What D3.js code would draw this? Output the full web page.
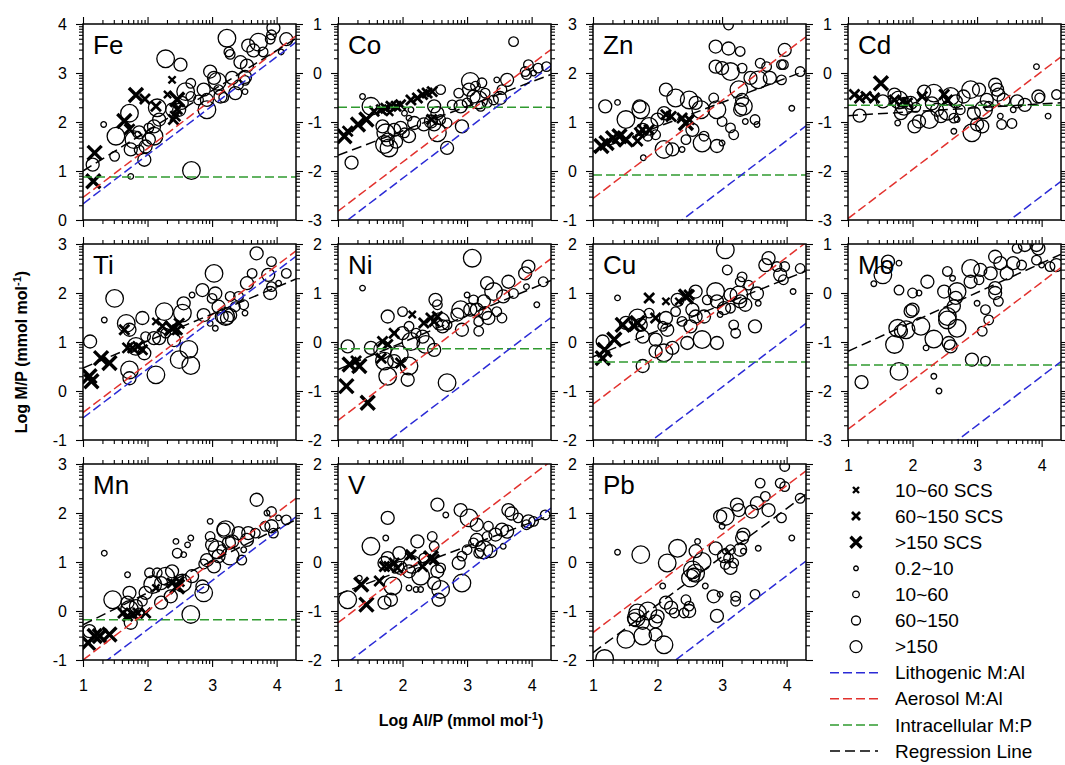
<!DOCTYPE html>
<html>
<head>
<meta charset="utf-8">
<script src="https://cdn.jsdelivr.net/npm/d3@7"></script>
<style>
  body { margin: 0; background: #fff; }
  text { font-family: "Liberation Sans", Arial, sans-serif; fill: #000; }
</style>
</head>
<body>
<div id="vis"></div>
<script>
const WIDTH = 1065, HEIGHT = 765;
const PW = 213, PH = 196;
const COL_X = [83, 338, 593, 848];
const ROW_Y = [24, 244, 464];

// panel order: row by row
const elements = ["Fe", "Co", "Zn", "Cd", "Ti", "Ni", "Cu", "Mo", "Mn", "V", "Pb"];
const yMin = [0, -3, -1, -3, -1, -2, -2, -3, -1, -2, -2];   // y domain is [yMin, yMin + 4]
const xTicks = [1, 2, 3, 4];

// reference lines, y = x + b for the M:Al lines
const lithoB = [-0.67, -4.15, -3.38, -6.51, -1.55, -3.80, -3.92, -5.70, -2.38, -3.20, -4.28];
const aeroB  = [-0.54, -3.82, -1.56, -3.97, -1.44, -2.60, -2.27, -3.78, -2.00, -2.24, -2.44];
const cellMP = [0.88, -0.70, -0.08, -0.66, null, -0.14, -0.41, -1.47, -0.18, null, null];
const regSlope = [0.82, 0.50, 0.50, 0.08, 0.55, 0.55, 0.53, 0.60, 0.65, 0.49, 0.98];
const regB     = [0.18, -2.18, -0.10, -0.95, -0.08, -1.11, -0.83, -1.79, -0.93, -1.15, -2.83];

// point classes: 1..3 crosses (SCS), 4..7 circles
const classNames = ["", "10~60 SCS", "60~150 SCS", ">150 SCS", "0.2~10", "10~60", "60~150", ">150"];

// [log Al/P, log M/P, class]
const Fe = [[1.16,0.79,3],[1.18,1.37,3],[1.64,2.02,3],[1.72,1.85,2],[1.82,2.55,3],[1.96,2.47,2],[2.13,2.32,2],[2.31,2.56,1],[2.38,2.86,1],[2.46,2.46,3],[2.43,2.12,2],[2.46,2.26,2],[2.40,2.05,2],
  [1.32,1.95,4],[1.15,1.13,6],[1.51,1.71,7],[1.72,2.18,7],[1.79,1.64,7],[1.74,1.44,6],[1.95,1.23,6],[2.02,1.64,6],[2.10,1.71,7],[2.15,2.29,7],[2.18,2.05,6],[2.28,3.29,7],[2.51,3.17,6],[2.59,2.62,7],[2.67,2.79,5],[2.68,1.01,7],[1.74,0.89,4],[2.49,2.25,6],[2.79,2.45,5],[2.87,2.66,6],[2.92,2.25,7],[2.97,3.03,6],[3.03,2.90,6],[3.08,2.83,7],[3.13,2.52,6],[3.23,3.71,7],[3.26,3.43,5],[3.28,3.38,5],[3.31,2.90,6],[3.36,2.59,6],[3.44,3.22,6],[3.51,2.92,6],[3.51,2.85,5],[3.54,3.15,6],[3.56,3.56,6],[3.64,3.46,6],[3.72,3.63,7],[3.79,3.43,5],[3.90,3.69,5],[3.95,3.92,6],[3.92,3.78,5],[4.07,3.43,4],[4.15,3.69,6],[2.10,1.91,6],[2.02,1.88,5],[1.85,1.75,4],[1.49,1.30,5],[2.38,2.25,6],[2.53,2.39,6],[2.67,2.52,5],[2.92,2.45,6],[3.10,2.66,5],[3.18,2.50,5],[3.41,2.76,5],[3.51,2.62,4],[1.97,1.50,6],[1.87,1.43,5],[1.87,1.79,6]];
const Co = [[1.10,-1.29,3],[1.15,-1.19,2],[1.31,-1.05,3],[1.44,-0.95,3],[1.56,-0.78,2],[1.67,-0.75,2],[1.74,-0.72,2],[1.82,-0.68,2],[1.90,-0.68,2],[1.97,-0.65,2],[2.13,-0.55,2],[2.23,-0.51,2],[2.31,-0.44,2],[2.38,-0.41,2],[2.46,-0.38,2],[1.80,-0.80,1],[2.45,-0.95,2],
  [1.38,-0.48,4],[1.21,-1.83,6],[1.51,-0.68,7],[1.69,-1.09,6],[1.74,-1.22,7],[1.77,-1.36,6],[1.72,-1.46,7],[1.79,-1.53,7],[1.87,-1.16,6],[1.97,-1.12,6],[2.03,-1.22,5],[2.10,-1.29,6],[2.10,-0.92,4],[2.18,-1.02,6],[2.33,-1.05,6],[2.44,-0.99,6],[2.49,-1.05,6],[2.54,-0.82,6],[2.59,-0.34,5],[2.49,-0.68,6],[2.59,-0.95,5],[2.69,-1.02,5],[2.54,-1.22,7],[2.69,-1.53,6],[2.90,-0.68,6],[2.92,-1.09,6],[2.87,-0.41,5],[3.05,-0.17,7],[3.03,-0.34,6],[3.10,-0.48,6],[3.18,-0.55,7],[3.13,-0.27,5],[3.23,-0.20,5],[3.28,-0.41,5],[3.31,-0.61,5],[3.21,-0.68,5],[3.41,-0.55,5],[3.51,-0.51,6],[3.46,-0.14,4],[3.54,-0.34,5],[3.62,-0.14,6],[3.72,0.64,5],[3.90,0.03,5],[3.95,0.17,5],[4.03,0.00,4],[4.10,0.10,5],[4.23,0.13,5],[3.92,-0.03,5],[2.13,-0.75,4],[2.03,-0.82,4],[2.77,-0.65,5],[3.00,-0.61,5],[1.90,-1.40,6]];
const Zn = [[1.13,0.51,3],[1.21,0.57,3],[1.31,0.67,3],[1.41,0.71,3],[1.51,0.64,3],[1.69,0.61,2],[1.72,0.78,2],[1.77,0.84,2],[1.87,0.84,2],[2.13,1.15,2],[2.21,1.11,2],[2.38,1.08,2],[2.49,1.05,2],[2.44,0.98,3],
  [1.19,1.32,6],[1.38,1.40,4],[1.51,1.05,7],[1.72,1.32,6],[1.74,1.25,7],[1.77,0.84,6],[1.78,0.27,4],[1.85,0.71,5],[1.97,0.74,5],[1.87,0.91,7],[2.00,1.05,6],[2.10,0.44,7],[2.23,0.44,6],[2.28,1.49,7],[2.13,1.66,6],[2.10,1.18,6],[2.38,0.44,4],[2.44,0.64,5],[2.49,1.45,7],[2.59,1.39,6],[2.67,1.25,7],[2.54,0.84,6],[2.69,0.57,7],[2.72,0.71,5],[2.92,1.25,7],[2.87,1.49,5],[2.90,2.54,6],[2.90,2.13,6],[2.92,0.51,6],[3.00,0.57,4],[3.00,1.01,5],[3.00,2.10,6],[3.10,2.50,6],[3.13,2.03,7],[3.10,2.98,5],[3.13,0.88,5],[3.18,0.74,5],[3.26,1.66,7],[3.28,1.25,6],[3.31,1.45,6],[3.33,1.32,7],[3.28,2.44,5],[3.31,2.10,5],[3.36,1.01,4],[3.44,1.90,6],[3.51,1.05,5],[3.54,0.95,4],[3.56,1.86,7],[3.59,2.20,5],[3.69,2.13,5],[3.74,1.90,6],[3.92,2.17,5],[3.95,2.17,5],[3.92,1.86,5],[3.97,2.47,6],[4.08,1.28,4],[4.21,2.03,5]];
const Cd = [[1.10,-0.44,2],[1.18,-0.51,2],[1.28,-0.48,2],[1.41,-0.51,2],[1.51,-0.21,3],[1.72,-0.55,2],[1.85,-0.58,2],[1.92,-0.61,2],[2.15,-0.48,2],[2.49,-0.44,2],[2.54,-0.55,2],
  [1.18,-0.87,6],[1.54,-0.58,6],[1.72,-0.44,6],[1.79,-0.55,7],[1.77,-1.02,4],[1.82,-0.82,6],[1.87,-0.68,7],[1.97,-0.61,6],[2.03,-1.09,6],[2.10,-0.99,6],[2.18,-0.38,6],[2.26,-0.95,7],[2.33,-0.41,7],[2.38,-0.75,6],[2.44,-0.88,6],[2.54,-0.78,7],[2.59,-0.48,7],[2.67,-0.58,6],[2.69,-0.95,4],[2.74,-0.75,5],[2.64,-0.92,5],[2.79,-0.48,6],[2.90,-0.34,7],[2.95,-0.82,6],[2.92,-1.22,7],[3.00,-1.05,6],[3.03,-0.34,6],[3.08,-1.09,6],[3.10,-0.75,7],[3.15,-0.55,6],[3.18,-0.68,5],[3.28,-0.24,6],[3.31,-0.34,6],[3.33,-0.44,6],[3.36,-0.88,4],[3.38,-1.05,5],[3.41,-0.55,6],[3.54,-1.03,5],[3.56,-0.75,4],[3.62,-0.58,6],[3.74,-0.65,6],[3.92,0.13,4],[3.95,-0.48,6],[3.97,-0.51,5],[4.10,-0.88,4],[4.23,-0.44,5],[2.64,-1.19,4],[2.05,-0.70,5],[2.30,-0.62,6]];
const Ti = [[1.13,0.20,3],[1.10,0.30,3],[1.28,0.67,3],[1.41,0.57,3],[1.64,1.25,2],[1.69,0.88,2],[1.77,0.88,2],[1.85,0.91,2],[1.92,0.84,2],[2.13,1.42,1],[2.23,1.32,2],[2.38,1.28,3],[2.46,1.25,2],[2.49,1.38,2],
  [1.11,1.01,6],[1.33,1.45,4],[1.49,1.89,7],[1.67,1.38,7],[1.72,1.25,6],[1.72,0.43,7],[1.82,0.91,7],[1.72,0.26,6],[1.92,1.49,6],[1.97,1.11,5],[1.95,0.77,6],[2.10,1.08,6],[2.13,0.33,7],[2.18,1.08,6],[2.26,1.62,7],[2.28,1.18,5],[2.41,1.04,6],[2.49,0.64,7],[2.54,1.59,7],[2.56,1.79,6],[2.64,0.85,7],[2.67,0.52,7],[2.69,1.96,4],[2.85,2.06,6],[2.87,1.55,6],[2.97,1.38,4],[3.05,1.28,4],[3.00,1.89,5],[3.03,2.40,7],[3.05,1.99,6],[3.10,1.72,6],[3.15,1.52,6],[3.21,1.52,7],[3.23,1.49,6],[3.28,1.93,5],[3.28,1.55,6],[3.36,1.72,5],[3.41,1.93,5],[3.49,1.76,5],[3.51,1.59,4],[3.54,2.20,6],[3.62,2.40,5],[3.69,2.81,6],[3.87,2.37,6],[3.92,2.64,5],[3.90,2.00,6],[4.03,2.20,4],[4.15,2.40,5],[3.92,2.13,5]];
const Ni = [[1.13,-0.90,3],[1.18,-0.46,3],[1.33,-0.49,3],[1.28,-0.39,2],[1.46,-1.24,3],[1.69,0.01,2],[1.77,-0.05,2],[1.87,0.18,2],[1.67,-0.33,2],[1.97,-0.43,2],[2.15,0.56,1],[2.33,0.39,2],[2.44,0.49,2],[2.49,0.42,2],[2.54,0.52,2],
  [1.15,-0.09,6],[1.38,1.10,4],[1.51,-0.12,6],[1.69,-0.16,7],[1.77,0.52,6],[1.72,-0.39,7],[1.77,-0.70,7],[1.87,-0.39,6],[1.95,-0.26,7],[2.00,0.62,5],[2.00,0.18,6],[2.08,-0.77,6],[2.10,0.32,5],[2.13,0.01,7],[2.10,-0.49,7],[2.21,0.18,5],[2.31,0.11,6],[2.36,-0.05,7],[2.49,-0.16,6],[2.51,0.86,6],[2.54,0.76,5],[2.59,0.42,7],[2.62,0.32,6],[2.69,0.35,5],[2.69,-0.83,7],[2.85,0.56,6],[2.90,0.66,7],[2.92,0.25,6],[3.00,0.96,4],[3.05,0.66,6],[3.08,1.71,7],[3.10,0.86,5],[3.18,0.42,5],[3.15,0.66,6],[3.18,0.22,5],[3.26,0.83,6],[3.28,0.59,6],[3.31,1.20,6],[3.33,0.49,6],[3.41,1.03,7],[3.46,0.62,5],[3.54,0.49,5],[3.56,0.93,6],[3.64,1.23,6],[3.72,0.99,5],[3.90,1.40,6],[3.95,1.54,6],[3.92,1.13,4],[4.08,0.76,4],[4.18,1.23,5]];
const Cu = [[1.15,-0.33,3],[1.18,-0.16,3],[1.33,0.05,3],[1.46,0.35,3],[1.64,0.32,2],[1.69,0.39,3],[1.87,0.90,2],[1.97,0.49,2],[2.13,0.83,1],[2.33,0.83,1],[2.44,0.93,3],[2.49,0.96,2],
  [1.15,0.01,6],[1.38,0.90,4],[1.51,0.39,6],[1.69,0.49,7],[1.74,0.35,6],[1.77,-0.49,6],[1.77,0.11,6],[1.87,0.59,5],[1.97,0.05,6],[1.97,-0.19,6],[2.08,0.32,5],[2.10,-0.22,7],[2.13,0.49,6],[2.15,0.25,6],[2.23,-0.12,6],[2.28,0.62,5],[2.31,0.86,6],[2.38,0.42,5],[2.46,-0.02,6],[2.51,0.32,6],[2.54,0.66,6],[2.59,1.03,6],[2.59,0.52,6],[2.69,0.05,7],[2.72,0.52,6],[2.77,0.86,5],[2.92,-0.02,6],[2.90,1.03,7],[2.92,0.83,6],[2.97,0.56,4],[3.03,0.69,6],[3.05,1.88,7],[3.08,1.47,5],[3.13,0.96,6],[3.13,0.69,5],[3.18,0.35,5],[3.21,0.18,5],[3.26,0.96,7],[3.28,1.23,5],[3.31,1.33,5],[3.28,0.83,6],[3.36,0.76,6],[3.41,1.16,5],[3.51,0.32,6],[3.54,0.99,6],[3.56,0.79,4],[3.67,1.57,6],[3.72,1.71,6],[3.85,1.54,5],[3.90,1.37,6],[3.95,1.27,5],[3.97,1.54,5],[4.10,1.03,4],[4.21,1.50,5]];
const Mo = [[1.21,-1.82,6],[1.40,0.19,4],[1.54,0.37,7],[1.62,0.64,6],[1.79,0.61,4],[1.79,0.06,5],[1.79,-1.60,7],[1.72,-1.05,7],[1.77,-0.72,7],[1.82,-0.78,6],[1.90,-0.75,7],[2.00,0.00,5],[2.10,0.00,4],[2.00,-0.34,6],[1.97,-0.37,6],[2.13,-0.68,7],[2.21,-1.12,4],[2.23,0.23,6],[2.33,-0.94,7],[2.33,-1.70,4],[2.41,-2.00,4],[2.49,0.03,6],[2.54,0.44,5],[2.54,-0.48,7],[2.54,-0.55,7],[2.56,-1.02,6],[2.59,-1.09,6],[2.62,0.30,4],[2.64,-0.27,6],[2.67,-0.10,6],[2.69,0.03,7],[2.69,-0.72,7],[2.90,0.50,7],[2.90,0.23,6],[2.92,-1.36,6],[3.00,-0.21,4],[3.03,0.27,5],[3.05,0.47,6],[3.13,-1.39,5],[3.13,-0.34,5],[3.18,-0.55,5],[3.08,-0.78,5],[3.21,0.40,6],[3.28,0.74,6],[3.28,0.10,6],[3.28,0.00,6],[3.33,-0.17,5],[3.36,0.61,6],[3.46,0.40,6],[3.56,0.61,6],[3.62,0.91,5],[3.69,0.57,5],[3.74,0.98,6],[3.92,0.98,6],[3.95,0.91,6],[3.92,0.67,5],[4.00,0.57,4],[4.13,0.54,5],[4.23,0.57,6]];
const Mn = [[1.08,-0.65,3],[1.18,-0.51,3],[1.26,-0.51,3],[1.41,-0.48,3],[1.62,-0.04,2],[1.69,-0.10,2],[1.77,-0.07,2],[1.85,-0.04,2],[1.97,-0.04,2],[2.13,0.47,1],[2.38,0.57,2],[2.46,0.50,3],[2.49,0.60,2],
  [1.10,-0.41,6],[1.33,1.18,4],[1.46,0.23,7],[1.69,0.74,4],[1.72,0.37,6],[1.69,0.17,6],[1.72,0.03,7],[1.74,-0.24,6],[1.82,0.10,6],[1.87,-0.04,5],[1.92,0.20,5],[1.97,0.37,6],[2.03,0.78,5],[2.08,0.54,7],[2.15,0.78,5],[2.21,0.57,6],[2.21,0.17,6],[2.28,0.71,7],[2.36,0.30,6],[2.38,0.81,6],[2.44,1.42,4],[2.46,1.18,5],[2.54,0.57,7],[2.56,1.15,4],[2.62,1.35,4],[2.67,1.49,4],[2.67,-0.07,7],[2.69,0.71,6],[2.85,0.50,6],[2.87,0.37,7],[2.87,0.96,5],[2.92,1.04,6],[2.97,1.83,4],[2.97,1.52,5],[3.00,1.35,6],[3.03,0.91,6],[3.08,1.25,7],[3.10,1.12,6],[3.15,1.25,5],[3.18,1.66,6],[3.21,1.66,7],[3.26,1.39,6],[3.28,1.12,7],[3.31,1.42,6],[3.41,1.59,6],[3.46,1.04,5],[3.49,1.25,4],[3.56,1.59,6],[3.54,1.45,6],[3.67,1.59,5],[3.69,2.27,6],[3.82,1.73,5],[3.85,2.00,4],[3.92,2.03,5],[3.92,1.73,6],[3.95,1.59,5],[4.03,1.90,4],[4.15,1.86,5]];
const V = [[1.36,-0.46,3],[1.44,-0.87,3],[1.64,-0.39,2],[1.72,-0.09,2],[1.79,-0.09,2],[1.87,-0.02,2],[1.92,-0.12,2],[2.10,0.12,1],[2.13,0.15,2],[2.31,-0.09,2],[2.44,0.08,3],[2.49,0.05,2],
  [1.15,-0.77,7],[1.33,-0.33,4],[1.51,0.32,7],[1.72,-0.83,6],[1.72,-0.02,6],[1.74,0.49,4],[1.77,0.90,6],[1.77,0.08,6],[1.85,-0.49,7],[1.82,-0.77,6],[1.95,0.18,6],[1.97,-0.12,6],[2.10,-0.19,6],[2.10,-0.53,4],[2.15,-0.05,7],[2.21,-0.56,4],[2.23,0.42,6],[2.28,-0.29,7],[2.28,-0.56,4],[2.33,0.08,5],[2.46,0.52,5],[2.49,0.32,5],[2.49,-0.43,6],[2.54,1.17,6],[2.54,-0.19,6],[2.59,-0.56,7],[2.56,-0.77,6],[2.59,-0.12,5],[2.67,0.96,4],[2.87,-0.02,6],[2.90,1.06,6],[2.92,-0.43,7],[2.92,0.12,5],[3.00,0.25,5],[3.03,0.90,7],[3.10,0.39,5],[3.15,0.76,6],[3.15,0.45,6],[3.18,0.18,5],[3.21,0.32,5],[3.26,0.25,7],[3.31,0.52,5],[3.36,0.22,6],[3.33,0.73,5],[3.44,0.56,6],[3.54,0.66,6],[3.56,0.32,4],[3.62,0.62,6],[3.64,1.06,6],[3.69,0.99,6],[3.79,0.90,5],[3.92,0.76,5],[3.95,0.83,6],[4.03,0.83,5],[4.21,0.96,5]];
const Pb = [[1.18,-1.97,7],[1.38,0.20,4],[1.51,-1.58,7],[1.64,-1.17,6],[1.67,-1.14,7],[1.69,-1.04,7],[1.74,0.15,7],[1.77,-1.51,7],[1.77,-1.24,6],[1.85,-1.00,7],[1.97,-1.48,6],[1.97,-1.21,6],[2.00,-1.11,6],[2.08,-0.49,4],[2.10,-1.69,7],[2.13,-0.83,6],[2.15,-0.02,7],[2.21,-0.93,6],[2.26,-1.04,5],[2.31,0.28,7],[2.41,-1.04,5],[2.44,-0.77,5],[2.49,-1.00,6],[2.49,-0.90,5],[2.51,-0.33,7],[2.54,-0.16,7],[2.56,-0.26,6],[2.59,0.22,6],[2.59,-0.23,7],[2.62,0.42,4],[2.69,0.01,7],[2.74,-0.49,4],[2.87,-0.70,6],[2.90,0.28,6],[2.92,-1.10,6],[2.97,-0.66,4],[2.97,0.93,6],[3.00,0.73,4],[3.05,0.93,7],[3.03,0.12,6],[3.05,-0.05,5],[3.05,0.22,4],[3.10,0.08,5],[3.13,-0.12,6],[3.13,0.25,5],[3.18,-0.02,5],[3.21,-0.70,5],[3.21,-0.80,5],[3.23,1.17,6],[3.26,1.06,6],[3.28,0.25,6],[3.31,0.49,6],[3.33,0.56,6],[3.33,0.22,4],[3.46,1.03,6],[3.51,-0.66,5],[3.54,1.20,6],[3.56,0.28,4],[3.59,1.61,5],[3.67,1.34,5],[3.72,1.06,6],[3.90,1.61,5],[3.92,0.90,5],[3.97,1.54,5],[3.97,1.95,5],[4.08,0.49,4],[4.21,1.30,5]];
const points = [Fe, Co, Zn, Cd, Ti, Ni, Cu, Mo, Mn, V, Pb];

// marker sizes: cross half-width / stroke, circle radius
const crossHalf = [0, 3.6, 5, 7];
const crossStroke = [0, 2.4, 2.8, 3.4];
const circleR = [0, 0, 0, 0, 2.8, 4.8, 6.5, 8.8];
const legCrossHalf = [0, 3, 4, 5.5];
const legCircleR = [0, 0, 0, 0, 2.3, 3.3, 4.5, 6];

const BLUE = "#2b2bd6", RED = "#e2312d", GREEN = "#2f9a2f";
const tickText = d => String(d);   // plain hyphen for negatives, no decimals

const svg = d3.select("#vis").append("svg")
  .attr("width", WIDTH).attr("height", HEIGHT);

function minorTicks(lo, hi) {
  const out = [];
  for (let k = lo; k < hi; k++)
    for (let m = 2; m <= 9; m++) out.push(k + Math.log10(m));
  return out;
}

function drawMarker(g, d, half, stroke, r) {
  if (d[2] <= 3) {
    const h = half[d[2]];
    g.append("path")
      .attr("d", `M${-h},${-h}L${h},${h}M${-h},${h}L${h},${-h}`)
      .attr("stroke", "#000").attr("stroke-width", stroke[d[2]])
      .attr("fill", "none");
  } else {
    g.append("circle").attr("r", r[d[2]])
      .attr("fill", "none").attr("stroke", "#000").attr("stroke-width", 1.3);
  }
}

elements.forEach((el, i) => {
  const col = i % 4, row = Math.floor(i / 4);
  const g = svg.append("g")
    .attr("transform", `translate(${COL_X[col]},${ROW_Y[row]})`);

  const x = d3.scaleLinear().domain([1, 4.3]).range([0, PW]);
  const y = d3.scaleLinear().domain([yMin[i], yMin[i] + 4]).range([PH, 0]);
  const yMajor = d3.range(yMin[i], yMin[i] + 5);
  const yMinor = minorTicks(yMin[i], yMin[i] + 4);
  const xMinor = minorTicks(1, 4);
  const xLabels = (row === 2 || i === 7);

  g.append("clipPath").attr("id", "clip" + i)
    .append("rect").attr("width", PW).attr("height", PH);

  // ticks on all four sides, pointing out
  const axes = [
    [d3.axisLeft(y).tickValues(yMajor).tickSize(7).tickPadding(9).tickFormat(tickText), null],
    [d3.axisLeft(y).tickValues(yMinor).tickSize(4).tickFormat(""), null],
    [d3.axisRight(y).tickValues(yMajor).tickSize(7).tickFormat(""), `translate(${PW},0)`],
    [d3.axisRight(y).tickValues(yMinor).tickSize(4).tickFormat(""), `translate(${PW},0)`],
    [d3.axisTop(x).tickValues(xTicks).tickSize(7).tickFormat(""), null],
    [d3.axisTop(x).tickValues(xMinor).tickSize(4).tickFormat(""), null],
    [d3.axisBottom(x).tickValues(xTicks).tickSize(7).tickPadding(13).tickFormat(xLabels ? tickText : ""), `translate(0,${PH})`],
    [d3.axisBottom(x).tickValues(xMinor).tickSize(4).tickFormat(""), `translate(0,${PH})`]
  ];
  axes.forEach(([ax, tr]) => {
    const a = g.append("g").call(ax.tickSizeOuter(0));
    if (tr) a.attr("transform", tr);
    a.select(".domain").remove();
    a.selectAll("line").attr("stroke", "#000").attr("stroke-width", 1.1);
    a.selectAll("text").attr("font-size", 16).attr("fill", "#000")
      .attr("font-family", '"Liberation Sans", Arial, sans-serif');
  });

  // points
  const pg = g.append("g").attr("clip-path", `url(#clip${i})`);
  pg.selectAll("g.pt").data(points[i]).enter().append("g")
    .attr("class", "pt")
    .attr("transform", d => `translate(${x(d[0])},${y(d[1])})`)
    .each(function (d) { drawMarker(d3.select(this), d, crossHalf, crossStroke, circleR); });

  // reference lines
  const lg = g.append("g").attr("clip-path", `url(#clip${i})`);
  const seg = (f, color, dash) => lg.append("line")
    .attr("x1", x(1)).attr("x2", x(4.3))
    .attr("y1", y(f(1))).attr("y2", y(f(4.3)))
    .attr("stroke", color).attr("stroke-width", 1.5)
    .attr("stroke-dasharray", dash).attr("fill", "none");
  if (cellMP[i] !== null) seg(() => cellMP[i], GREEN, "9,4");
  seg(v => v + lithoB[i], BLUE, "9,4");
  seg(v => v + aeroB[i], RED, "9,4");
  seg(v => regSlope[i] * v + regB[i], "#000", "10,5");

  // frame
  g.append("rect").attr("width", PW).attr("height", PH)
    .attr("fill", "none").attr("stroke", "#000").attr("stroke-width", 1.5);

  g.append("text").attr("x", 10).attr("y", 30)
    .attr("font-size", 26).text(el);
});

// axis titles
const yt = svg.append("text")
  .attr("transform", "translate(27,352) rotate(-90)")
  .attr("text-anchor", "middle").attr("font-size", 16).attr("font-weight", "bold");
yt.append("tspan").text("Log M/P (mmol mol");
yt.append("tspan").attr("font-size", 11).attr("dy", -6).text("-1");
yt.append("tspan").attr("dy", 6).text(")");

const xt = svg.append("text")
  .attr("x", 461).attr("y", 726)
  .attr("text-anchor", "middle").attr("font-size", 16).attr("font-weight", "bold");
xt.append("tspan").text("Log Al/P (mmol mol");
xt.append("tspan").attr("font-size", 11).attr("dy", -6).text("-1");
xt.append("tspan").attr("dy", 6).text(")");

// legend
const legendMarks = [1, 2, 3, 4, 5, 6, 7];
const legendLines = [["Lithogenic M:Al", BLUE, "9,4"], ["Aerosol M:Al", RED, "9,4"],
                     ["Intracellular M:P", GREEN, "9,4"], ["Regression Line", "#000", "10,5"]];
const LEG_Y0 = 490, LEG_DY = 26.1;
const leg = svg.append("g");
legendMarks.forEach((k, j) => {
  const row = leg.append("g").attr("transform", `translate(856,${LEG_Y0 + j * LEG_DY})`);
  drawMarker(row, [0, 0, k], legCrossHalf, [0, 2.4, 2.8, 3.4], legCircleR);
  row.append("text").attr("x", 39).attr("dy", "0.35em").attr("font-size", 19).text(classNames[k]);
});
legendLines.forEach(([label, color, dash], j) => {
  const yy = LEG_Y0 + (legendMarks.length + j) * LEG_DY;
  leg.append("line").attr("x1", 830).attr("x2", 878).attr("y1", yy).attr("y2", yy)
    .attr("stroke", color).attr("stroke-width", 1.5).attr("stroke-dasharray", dash);
  leg.append("text").attr("x", 895).attr("y", yy).attr("dy", "0.35em")
    .attr("font-size", 19).text(label);
});
</script>
</body>
</html>
